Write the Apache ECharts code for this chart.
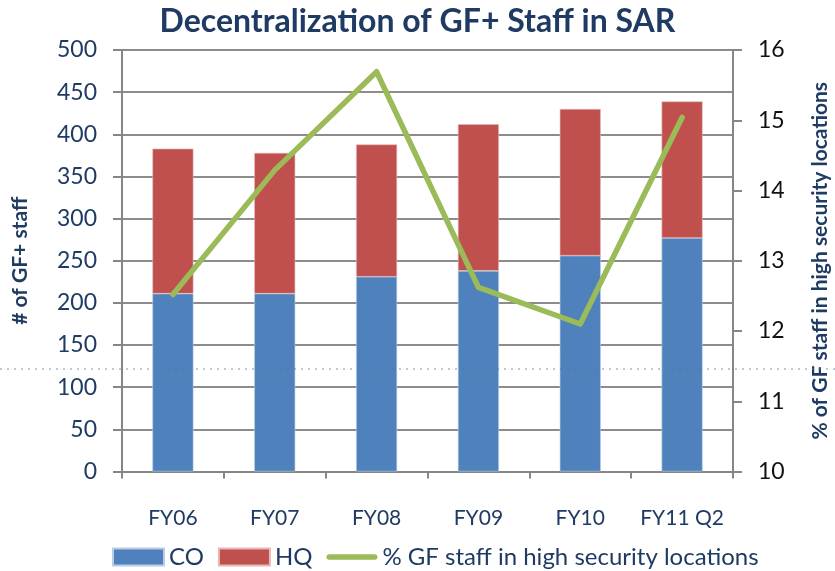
<!DOCTYPE html>
<html>
<head>
<meta charset="utf-8">
<script src="https://cdn.jsdelivr.net/npm/echarts@6/dist/echarts.min.js"></script>
<style>html,body{margin:0;padding:0;background:#fff}#c{width:835px;height:571px}</style>
</head>
<body>
<div id="c"></div>
<script>
const categories = ['FY06', 'FY07', 'FY08', 'FY09', 'FY10', 'FY11 Q2'];
const coValues = [211, 211, 231, 238, 256, 277];
const hqValues = [172, 167, 157, 174, 174, 162];
const pctValues = [12.52, 14.29, 15.69, 12.62, 12.1, 15.04];

const navy = '#1F3B63';
const FONT = 'Lato';
const chart = echarts.init(document.getElementById('c'), null, {renderer: 'canvas'});
chart.setOption({
  animation: false,
  backgroundColor: '#ffffff',
  title: {
    text: 'Decentralization of GF+ Staff in SAR',
    left: 'center', top: 1,
    textStyle: {fontFamily: FONT, fontWeight: 'bold', fontSize: 32, color: navy}
  },
  grid: {left: 122, right: 102, top: 50, bottom: 99.5, containLabel: false, outerBoundsMode: 'none'},
  legend: {
    left: 107, top: 540,
    itemWidth: 51, itemHeight: 17, itemGap: 14,
    textStyle: {fontFamily: FONT, fontSize: 24, color: navy},
    data: [
      {name: 'CO', icon: 'rect'},
      {name: 'HQ', icon: 'rect'},
      {name: '% GF staff in high security locations', icon: 'path://M3,0 L53,0 A3,3 0 0 1 53,6 L3,6 A3,3 0 0 1 3,0 Z'}
    ]
  },
  xAxis: {
    type: 'category',
    data: categories,
    axisLine: {lineStyle: {color: '#868686', width: 2}},
    axisTick: {show: true, length: 7, lineStyle: {color: '#868686', width: 2}},
    axisLabel: {fontFamily: FONT, fontSize: 21, color: navy, margin: 36, interval: 0}
  },
  yAxis: [
    {
      type: 'value', min: 0, max: 500, interval: 50,
      name: '# of GF+ staff', nameLocation: 'middle', nameGap: 91, nameRotate: 90,
      nameTextStyle: {fontFamily: FONT, fontWeight: 'bold', fontSize: 21, color: navy},
      axisLine: {show: true, lineStyle: {color: '#868686', width: 2}},
      axisTick: {show: true, length: 9, lineStyle: {color: '#868686', width: 2}},
      axisLabel: {fontFamily: FONT, fontSize: 23, color: navy, margin: 25},
      splitLine: {show: true, lineStyle: {color: '#8c8c8c', width: 2}}
    },
    {
      type: 'value', min: 10, max: 16, interval: 1, position: 'right',
      name: '% of GF staff in high security locations', nameLocation: 'middle', nameGap: 77, nameRotate: 90,
      nameTextStyle: {fontFamily: FONT, fontWeight: 'bold', fontSize: 21, color: navy},
      axisLine: {show: true, lineStyle: {color: '#868686', width: 2}},
      axisTick: {show: true, length: 9, lineStyle: {color: '#868686', width: 2}},
      axisLabel: {fontFamily: FONT, fontSize: 23, color: '#111111', margin: 25},
      splitLine: {show: false}
    }
  ],
  series: [
    {
      name: 'CO', type: 'bar', stack: 'staff', data: coValues, barWidth: 41,
      itemStyle: {color: '#4F81BD', borderColor: '#b9cde5', borderWidth: 0.6}
    },
    {
      name: 'HQ', type: 'bar', stack: 'staff', data: hqValues, barWidth: 41,
      itemStyle: {color: '#C0504D', borderColor: '#e6b9b8', borderWidth: 0.6}
    },
    {
      name: '% GF staff in high security locations', type: 'line', yAxisIndex: 1,
      data: pctValues, symbol: 'none', z: 5,
      lineStyle: {color: '#9BBB59', width: 5.5, cap: 'round', join: 'round'},
      itemStyle: {color: '#9BBB59'}
    }
  ],
  graphic: [{
    type: 'line', silent: true, z: 100,
    shape: {x1: 0, y1: 369, x2: 835, y2: 369},
    style: {stroke: '#5b7794', lineWidth: 1, lineDash: [2, 5], opacity: 0.8}
  }]
});
</script>
</body>
</html>
